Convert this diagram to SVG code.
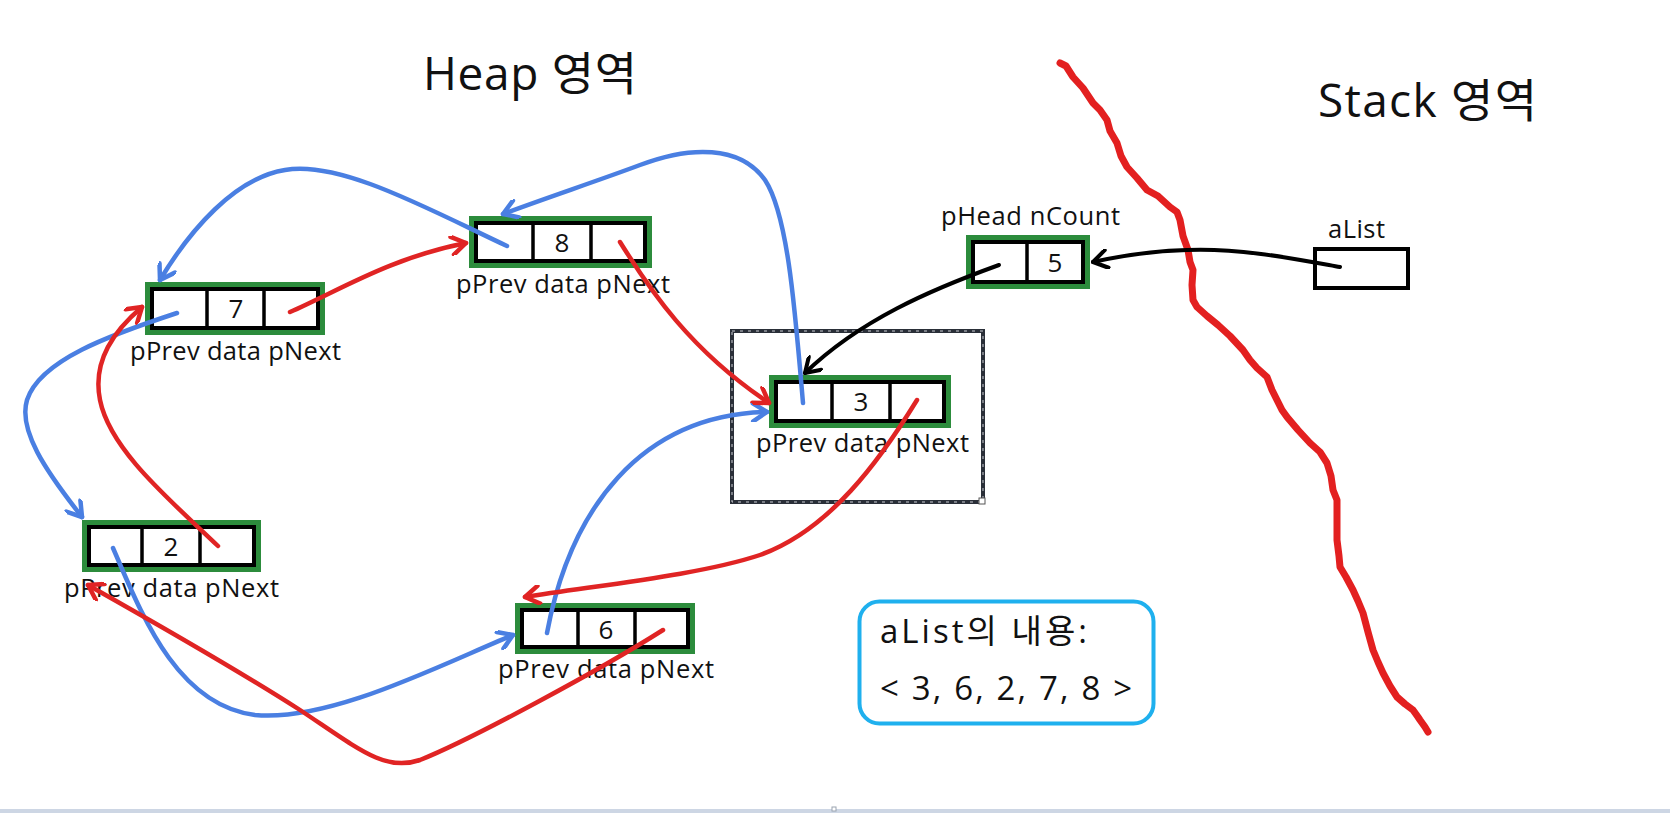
<svg xmlns="http://www.w3.org/2000/svg" width="1670" height="813" viewBox="0 0 1670 813">
<style>
  .t { font-family: "Open Sans", "Noto Sans CJK KR", sans-serif; fill: #111; }
  .lbl { font-size: 25.5px; }
  .dig { font-size: 26px; text-anchor: middle; }
  .green { fill: none; stroke: #2c8c3c; stroke-width: 5; }
  .cell { fill: #fff; stroke: #000; stroke-width: 4; }
  .div { stroke: #000; stroke-width: 3.5; }
  .blue { fill: none; stroke: #4a7fe2; stroke-width: 4.5; stroke-linecap: round; marker-end: url(#ab); }
  .red { fill: none; stroke: #e02424; stroke-width: 4.5; stroke-linecap: round; marker-end: url(#ar); }
  .blk { fill: none; stroke: #000; stroke-width: 4; stroke-linecap: round; marker-end: url(#ak); }
</style>
<defs>
  <marker id="ab" viewBox="0 0 20 20" refX="17" refY="10" markerWidth="20" markerHeight="20" markerUnits="userSpaceOnUse" orient="auto">
    <path d="M3,1 L17,10 L3,19" fill="none" stroke="#4a7fe2" stroke-width="4.5" stroke-linecap="round" stroke-linejoin="round"/>
  </marker>
  <marker id="ar" viewBox="0 0 20 20" refX="17" refY="10" markerWidth="20" markerHeight="20" markerUnits="userSpaceOnUse" orient="auto">
    <path d="M3,1 L17,10 L3,19" fill="none" stroke="#e02424" stroke-width="4.5" stroke-linecap="round" stroke-linejoin="round"/>
  </marker>
  <marker id="ak" viewBox="0 0 20 20" refX="17" refY="10" markerWidth="20" markerHeight="20" markerUnits="userSpaceOnUse" orient="auto">
    <path d="M3,1 L17,10 L3,19" fill="none" stroke="#000" stroke-width="4" stroke-linecap="round" stroke-linejoin="round"/>
  </marker>
</defs>
<rect width="1670" height="813" fill="#fff"/>
<rect x="0" y="809" width="1670" height="4" fill="#cdd6e4"/>
<rect x="832" y="807" width="4" height="4" fill="#fff" stroke="#9aa3b0" stroke-width="1"/>

<text class="t" x="423" y="90" font-size="46" textLength="214">Heap 영역</text>
<text class="t" x="1318" y="117" font-size="46" textLength="219">Stack 영역</text>

<!-- stack/heap boundary -->
<polyline id="boundary" fill="none" stroke="#e32020" stroke-width="7" stroke-linecap="round" stroke-linejoin="round"
  points="1060,63 1066,66 1073,77 1083,88 1093,103 1100,110 1107,120 1110,131 1117,143 1121,156 1127,167 1137,178 1147,190 1158,196 1170,207 1177,212 1180,220 1183,236 1188,250 1190,262 1193,270 1192,285 1193,300 1197,307 1207,316 1218,325 1230,336 1243,350 1250,360 1257,368 1267,377 1272,390 1277,400 1282,410 1287,417 1298,430 1310,443 1320,452 1327,463 1331,476 1333,490 1337,500 1337,520 1337,540 1339,556 1340,567 1346,577 1353,590 1358,601 1363,613 1368,632 1373,650 1378,662 1383,673 1390,686 1397,697 1405,704 1413,710 1418,717 1420,720 1425,727 1428,732"/>

<!-- selection frame -->
<g id="selection">
  <rect x="732" y="331" width="251" height="171" fill="none" stroke="#2a2f38" stroke-width="4"/>
  <rect x="732" y="331" width="251" height="171" fill="none" stroke="#c9ccd2" stroke-width="1" stroke-dasharray="3 5"/>
  <rect x="979" y="498" width="6" height="6" fill="#fff" stroke="#555" stroke-width="1"/>
</g>

<g id="node7">
  <rect class="green" x="147.5" y="284.5" width="175" height="48"/>
  <rect class="cell" x="152" y="289" width="166" height="39"/>
  <line class="div" x1="207" y1="289" x2="207" y2="328"/>
  <line class="div" x1="264" y1="289" x2="264" y2="328"/>
  <text class="t dig" x="236" y="318">7</text>
  <text class="t lbl" x="130" y="360" textLength="211">pPrev data pNext</text>
</g>
<g id="node8">
  <rect class="green" x="471.5" y="218.5" width="178" height="47"/>
  <rect class="cell" x="476" y="223" width="169" height="38"/>
  <line class="div" x1="533" y1="223" x2="533" y2="261"/>
  <line class="div" x1="591" y1="223" x2="591" y2="261"/>
  <text class="t dig" x="562" y="252">8</text>
  <text class="t lbl" x="456" y="293" textLength="214">pPrev data pNext</text>
</g>
<g id="node3">
  <rect class="green" x="771.5" y="377.5" width="177" height="48"/>
  <rect class="cell" x="776" y="382" width="168" height="39"/>
  <line class="div" x1="832" y1="382" x2="832" y2="421"/>
  <line class="div" x1="890" y1="382" x2="890" y2="421"/>
  <text class="t dig" x="861" y="411">3</text>
  <text class="t lbl" x="756" y="452" textLength="213">pPrev data pNext</text>
</g>
<g id="node2">
  <rect class="green" x="84.5" y="522.5" width="174" height="47"/>
  <rect class="cell" x="89" y="527" width="165" height="38"/>
  <line class="div" x1="142" y1="527" x2="142" y2="565"/>
  <line class="div" x1="200" y1="527" x2="200" y2="565"/>
  <text class="t dig" x="171" y="556">2</text>
  <text class="t lbl" x="64" y="597" textLength="215">pPrev data pNext</text>
</g>
<g id="node6">
  <rect class="green" x="517.5" y="605.5" width="175" height="46"/>
  <rect class="cell" x="522" y="610" width="166" height="37"/>
  <line class="div" x1="578" y1="610" x2="578" y2="647"/>
  <line class="div" x1="635" y1="610" x2="635" y2="647"/>
  <text class="t dig" x="606" y="639">6</text>
  <text class="t lbl" x="498" y="678" textLength="216">pPrev data pNext</text>
</g>
<g id="head">
  <rect class="green" x="968.5" y="237.5" width="119" height="49"/>
  <rect class="cell" x="973" y="242" width="110" height="40"/>
  <line class="div" x1="1027" y1="242" x2="1027" y2="282"/>
  <text class="t dig" x="1055" y="272">5</text>
  <text class="t lbl" x="941" y="225" textLength="179">pHead nCount</text>
</g>
<g id="aList">
  <rect x="1315" y="249" width="93" height="39" fill="#fff" stroke="#000" stroke-width="4"/>
  <text class="t lbl" x="1328" y="238" textLength="57">aList</text>
</g>
<g id="contents">
  <rect x="859.5" y="601.5" width="294" height="122" rx="20" fill="#fff" stroke="#1fb0ee" stroke-width="4"/>
  <text class="t" x="880" y="643" font-size="33" textLength="207">aList의 내용:</text>
  <text class="t" x="880" y="700" font-size="33" textLength="252">&lt; 3, 6, 2, 7, 8 &gt;</text>
</g>

<g id="connectors">
  <path class="blue" d="M507,246 C430,210 340,160 285,170 C235,178 190,230 160,280"/>
  <path class="blue" d="M803,403 C795,310 788,215 765,180 C740,145 690,146 640,165 C600,180 540,200 503,214"/>
  <path class="blue" d="M177,313 C110,335 40,360 27,400 C18,430 45,470 82,517"/>
  <path class="blue" d="M113,548 C140,610 175,705 255,715 C330,722 440,665 513,635"/>
  <path class="blue" d="M547,633 C570,510 640,415 767,412"/>

  <path class="red" d="M290,312 C340,290 390,258 466,243"/>
  <path class="red" d="M620,242 C650,290 690,350 769,403"/>
  <path class="red" d="M917,400 C880,460 830,530 760,555 C700,575 600,585 525,597"/>
  <path class="red" d="M663,630 C600,670 470,740 420,760 C385,772 360,750 300,710 C230,665 150,620 88,585"/>
  <path class="red" d="M218,546 C170,500 110,450 100,400 C92,360 115,330 142,307"/>

  <path class="blk" d="M1340,267 C1290,258 1240,248 1187,250 C1150,251 1120,256 1093,262"/>
  <path class="blk" d="M999,265 C930,290 860,320 805,373"/>
</g>
</svg>
